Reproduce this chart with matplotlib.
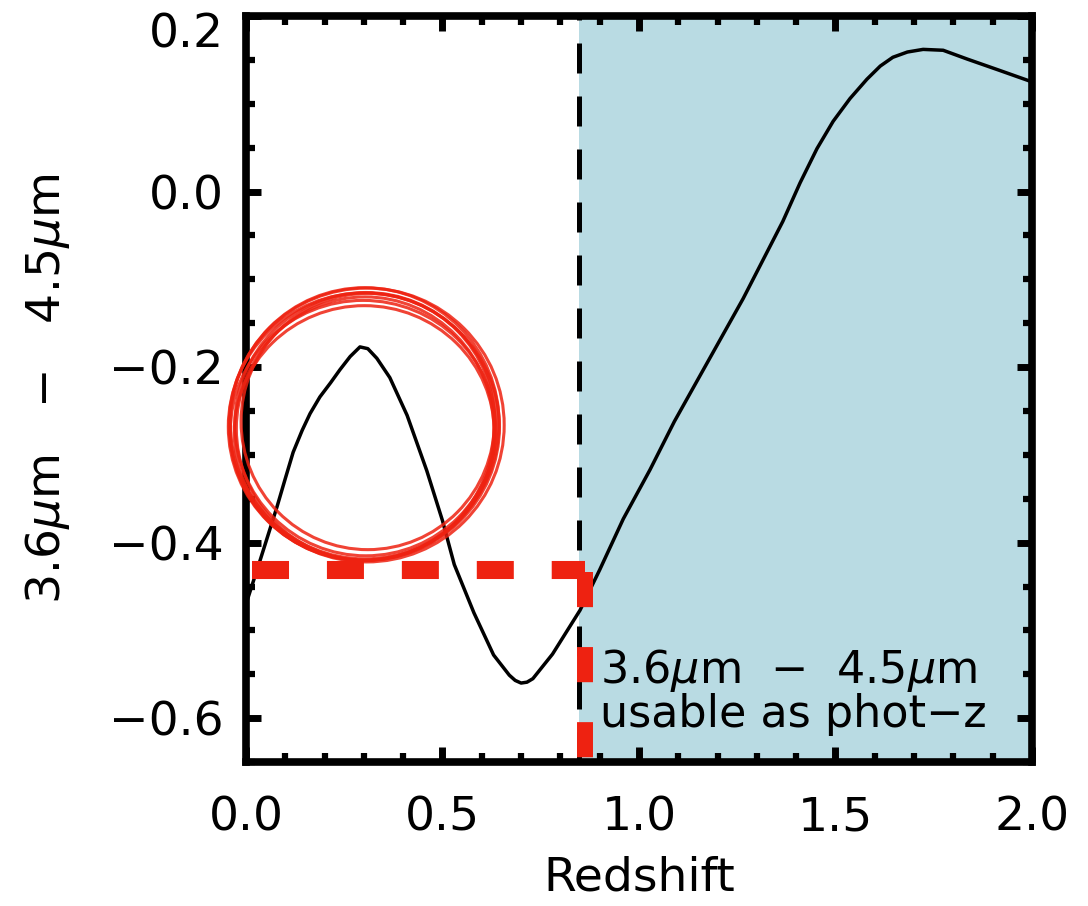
import matplotlib.pyplot as plt
from matplotlib.patches import Ellipse
from matplotlib.ticker import MultipleLocator, FixedLocator, FixedFormatter
from matplotlib.transforms import offset_copy

# colour track: redshift vs 3.6um - 4.5um colour
redshift = [0.0, 0.036, 0.079, 0.10, 0.12, 0.143, 0.163, 0.188, 0.215, 0.239, 0.265, 0.29,
            0.31, 0.333, 0.366, 0.41, 0.46, 0.50, 0.53, 0.58, 0.63, 0.67, 0.685, 0.70,
            0.715, 0.73, 0.78, 0.85, 0.90, 0.96, 1.028, 1.09, 1.155, 1.21, 1.265, 1.366,
            1.41, 1.453, 1.494, 1.537, 1.58, 1.614, 1.646, 1.683, 1.723, 1.774, 1.835,
            1.918, 2.0]
colour = [-0.47, -0.42, -0.359, -0.327, -0.297, -0.272, -0.253, -0.234, -0.218, -0.203, -0.188, -0.177,
          -0.179, -0.190, -0.212, -0.255, -0.318, -0.375, -0.425, -0.48, -0.528, -0.551, -0.557, -0.56,
          -0.559, -0.555, -0.527, -0.477, -0.431, -0.373, -0.317, -0.262, -0.21, -0.166, -0.122, -0.034,
          0.010, 0.049, 0.08, 0.106, 0.128, 0.143, 0.153, 0.159, 0.162, 0.161, 0.151,
          0.138, 0.125]

z_cut = 0.847          # start of the usable (shaded) range
red_level = -0.431     # red dashed colour level
red_z = 0.863          # red dashed vertical position
red_z_start = 0.0153

# hand drawn circle strokes: (x, y, width, height)
circle_strokes = [(0.305, -0.265, 0.667, 0.300),
                  (0.300, -0.268, 0.690, 0.305),
                  (0.310, -0.262, 0.645, 0.292),
                  (0.298, -0.272, 0.675, 0.296),
                  (0.307, -0.266, 0.700, 0.312),
                  (0.303, -0.270, 0.655, 0.300),
                  (0.302, -0.264, 0.684, 0.309),
                  (0.301, -0.275, 0.662, 0.290)]

xticks = [0.0, 0.5, 1.0, 1.5, 2.0]
yticks = [-0.6, -0.4, -0.2, 0.0, 0.2]
ylabels = ['\u22120.6', '\u22120.4', '\u22120.2', '0.0', '']

red = '#ee2211'
blue = '#b9dbe3'

plt.rcParams['font.family'] = ['DejaVu Sans']
plt.rcParams['mathtext.fontset'] = 'dejavusans'

fig = plt.figure(figsize=(10.88, 9.06), dpi=100)
ax = fig.add_axes([0.2261, 0.1589, 0.7224, 0.8234])

ax.axvspan(z_cut, 2.0, color=blue, zorder=0, lw=0)
ax.axvline(z_cut, color='black', lw=3.6, dashes=(6, 4.6), zorder=2)
ax.plot(redshift, colour, color='black', lw=2.5, zorder=3, solid_joinstyle='round')

# red dashed guide lines
ax.plot([red_z_start, red_z], [red_level, red_level], color=red, lw=13,
        dashes=(2.05, 2.1), solid_capstyle='butt', dash_capstyle='butt', zorder=5)
ax.plot([red_z, red_z], [red_level - 0.002, -0.65], color=red, lw=11.5,
        dashes=(2.2, 2.5), dash_capstyle='butt', zorder=5, clip_on=False)

# sketchy red circle
for cx, cy, w, h in circle_strokes:
    ax.add_patch(Ellipse((cx, cy), w, h, fill=False, edgecolor=red, lw=2.2,
                         alpha=0.85, zorder=6, clip_on=False))

ax.text(0.90, -0.56, '3.6$\\mu$m  $-$  4.5$\\mu$m', fontsize=32, va='baseline', zorder=7)
ax.text(0.90, -0.61, 'usable as phot\u2212z', fontsize=32, va='baseline', zorder=7)

ax.set_xlim(0, 2.0)
ax.set_ylim(-0.65, 0.2)
ax.xaxis.set_major_locator(FixedLocator(xticks))
ax.xaxis.set_minor_locator(MultipleLocator(0.1))
ax.yaxis.set_major_locator(FixedLocator(yticks))
ax.yaxis.set_major_formatter(FixedFormatter(ylabels))
ax.yaxis.set_minor_locator(MultipleLocator(0.05))

ax.tick_params(which='both', direction='in', top=True, right=True, labelsize=34)
ax.tick_params(which='major', length=11, width=5)
ax.tick_params(which='minor', length=6.5, width=4.5)
ax.tick_params(axis='x', which='major', pad=24)
ax.tick_params(axis='y', which='major', pad=16)

# top label sits a bit below its tick in the reference
ax.text(0, 0.2, '0.2', fontsize=34, ha='right', va='center',
        transform=offset_copy(ax.get_yaxis_transform(), fig=fig, x=-16, y=-14, units='points'))

for s in ax.spines.values():
    s.set_linewidth(5.5)

ax.set_xlabel('Redshift', fontsize=34, labelpad=11)
ax.set_ylabel('3.6$\\mu$m   $-$   4.5$\\mu$m', fontsize=34, labelpad=27)

fig.savefig('out.png', dpi=100)
